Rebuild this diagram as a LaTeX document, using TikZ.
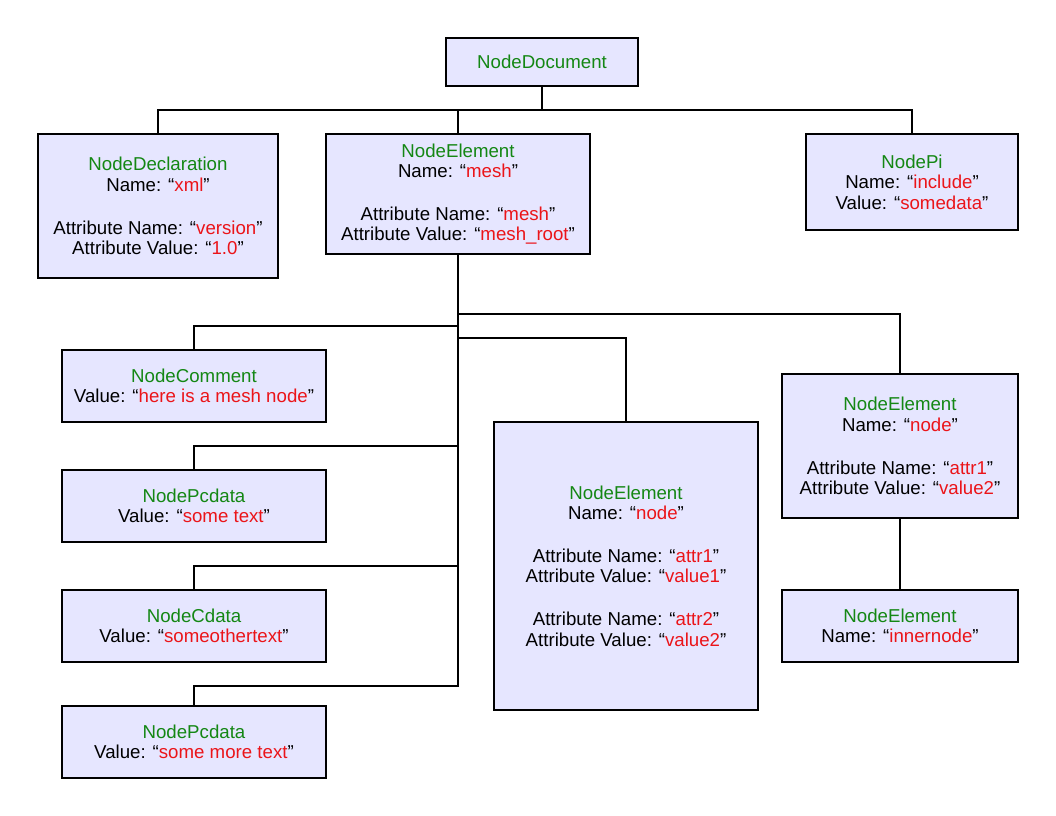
\documentclass[tikz,border=0pt]{standalone}
\usepackage{fontspec}
\setmainfont{Liberation Sans}
\definecolor{boxfill}{RGB}{230,230,255}
\definecolor{tgreen}{RGB}{20,135,20}
\definecolor{tred}{RGB}{235,20,25}
\newcommand{\gn}[1]{\textcolor{tgreen}{#1}}
\newcommand{\rd}[1]{“\textcolor{tred}{#1}”}
\newcommand{\gap}{\\[16.8pt]}
\tikzset{
  box/.style={draw=black, fill=boxfill, line width=0.9pt, align=center, inner sep=0pt,
    font=\fontsize{14pt}{15.3pt}\selectfont},
  link/.style={draw=black, line width=0.9pt}
}
\begin{document}
\begin{tikzpicture}[x=0.75pt,y=-0.75pt]
\useasboundingbox (0,0) rectangle (1056,816);
\node[box, minimum width=144pt, minimum height=36pt] (doc) at (542,62) {\gn{NodeDocument}};
\node[box, minimum width=180pt, minimum height=108pt] (decl) at (158,206)
  {\gn{NodeDeclaration}\\Name: \rd{xml}\gap Attribute Name: \rd{version}\\Attribute Value: \rd{1.0}};
\node[box, minimum width=198pt, minimum height=90pt] (mesh) at (458,194)
  {\gn{NodeElement}\\Name: \rd{mesh}\gap Attribute Name: \rd{mesh}\\Attribute Value: \rd{mesh\_root}};
\node[box, minimum width=159pt, minimum height=72pt] (pi) at (912,182)
  {\gn{NodePi}\\Name: \rd{include}\\Value: \rd{somedata}};
\node[box, minimum width=198pt, minimum height=54pt] (comment) at (194,386)
  {\gn{NodeComment}\\Value: \rd{here is a mesh node}};
\node[box, minimum width=198pt, minimum height=54pt] (pcdata) at (194,506)
  {\gn{NodePcdata}\\Value: \rd{some text}};
\node[box, minimum width=198pt, minimum height=54pt] (cdata) at (194,626)
  {\gn{NodeCdata}\\Value: \rd{someothertext}};
\node[box, minimum width=198pt, minimum height=54pt] (pcdatb) at (194,742)
  {\gn{NodePcdata}\\Value: \rd{some more text}};
\node[box, minimum width=198pt, minimum height=216pt] (big) at (626,566)
  {\gn{NodeElement}\\Name: \rd{node}\gap Attribute Name: \rd{attr1}\\Attribute Value: \rd{value1}\gap Attribute Name: \rd{attr2}\\Attribute Value: \rd{value2}};
\node[box, minimum width=177pt, minimum height=108pt] (right) at (900,446)
  {\gn{NodeElement}\\Name: \rd{node}\gap Attribute Name: \rd{attr1}\\Attribute Value: \rd{value2}};
\node[box, minimum width=177pt, minimum height=54pt] (inner) at (900,626)
  {\gn{NodeElement}\\Name: \rd{innernode}};
% top connectors
\coordinate (j) at (542,110);
\draw[link] (doc.south) -- (j);
\draw[link] (decl.north) |- (j) -| (pi.north);
\draw[link] (mesh.north) -- (mesh.north |- j);
% mesh branches
\coordinate (tr) at (458,314);
\coordinate (tc) at (458,326);
\coordinate (tb) at (458,338);
\coordinate (tp) at (458,446);
\coordinate (td) at (458,566);
\coordinate (te) at (458,686);
\draw[link] (mesh.south) -- (te) -| (pcdatb.north);
\draw[link] (tr) -| (right.north);
\draw[link] (tc) -| (comment.north);
\draw[link] (tb) -| (big.north);
\draw[link] (tp) -| (pcdata.north);
\draw[link] (td) -| (cdata.north);
\draw[link] (right.south) -- (inner.north);
\end{tikzpicture}
\end{document}
